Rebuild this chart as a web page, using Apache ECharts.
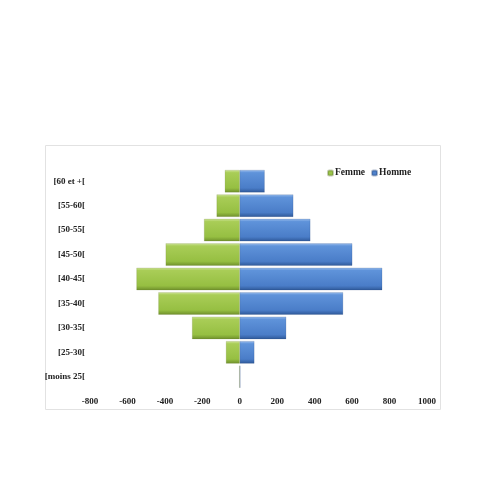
<!DOCTYPE html>
<html>
<head>
<meta charset="utf-8">
<script src="https://cdn.jsdelivr.net/npm/echarts@6/dist/echarts.min.js"></script>
<style>
  html, body { margin: 0; padding: 0; background: #fff; }
  #chart { width: 480px; height: 480px; }
</style>
</head>
<body>
<div id="chart"></div>
<script>
// age groups, bottom to top
var categories = ['[moins 25[', '[25-30[', '[30-35[', '[35-40[', '[40-45[', '[45-50[', '[50-55[', '[55-60[', '[60 et +['];
var femme = [-3, -74, -255, -435, -552, -396, -191, -124, -80];
var homme = [3, 78, 248, 552, 761, 601, 377, 286, 133];
var xTicks = { min: -800, max: 1000, interval: 200 };

var labelFont = { fontFamily: 'Liberation Serif', fontWeight: 'bold', fontSize: 9, color: '#222' };

function grad(stops) {
  return new echarts.graphic.LinearGradient(0, 0, 0, 1, stops.map(function (s) {
    return { offset: s[0], color: s[1] };
  }));
}
var greenFill = grad([[0, '#cfe59a'], [0.12, '#a9cd57'], [0.8, '#96bf42'], [1, '#6e8f2b']]);
var blueFill = grad([[0, '#9cbfee'], [0.12, '#5f93da'], [0.8, '#4a7dc8'], [1, '#2e5898']]);

var chart = echarts.init(document.getElementById('chart'));
chart.setOption({
  animation: false,
  backgroundColor: '#fff',
  graphic: [{
    type: 'rect',
    shape: { x: 45.5, y: 145.5, width: 395, height: 264 },
    style: { fill: 'none', stroke: '#e2e2e2', lineWidth: 1 },
    z: -1
  }],
  legend: {
    top: 163, left: 322,
    itemWidth: 5, itemHeight: 5, itemGap: 6,
    textStyle: Object.assign({}, labelFont, { fontSize: 9.5, padding: [0, 0, 0, -3] }),
    data: [
      { name: 'Femme', itemStyle: { color: '#9cc64a' } },
      { name: 'Homme', itemStyle: { color: '#4f82cc' } }
    ]
  },
  grid: { left: 90, right: 53, top: 169, bottom: 91 },
  xAxis: {
    type: 'value',
    min: xTicks.min, max: xTicks.max, interval: xTicks.interval,
    splitLine: { show: false },
    axisLine: { show: false },
    axisTick: { show: false },
    axisLabel: Object.assign({ margin: 8, formatter: function (v) { return String(v); } }, labelFont)
  },
  yAxis: {
    type: 'category',
    data: categories,
    axisLine: { show: false },
    axisTick: { show: false },
    axisLabel: Object.assign({ margin: 5 }, labelFont)
  },
  series: [
    {
      name: 'Femme', type: 'bar', data: femme,
      barCategoryGap: '8%', barGap: '-100%',
      itemStyle: { color: greenFill, borderColor: 'rgba(90,110,40,0.35)', borderWidth: 0.5 }
    },
    {
      name: 'Homme', type: 'bar', data: homme,
      barCategoryGap: '8%',
      itemStyle: { color: blueFill, borderColor: 'rgba(30,60,110,0.35)', borderWidth: 0.5 }
    }
  ]
});
</script>
</body>
</html>
